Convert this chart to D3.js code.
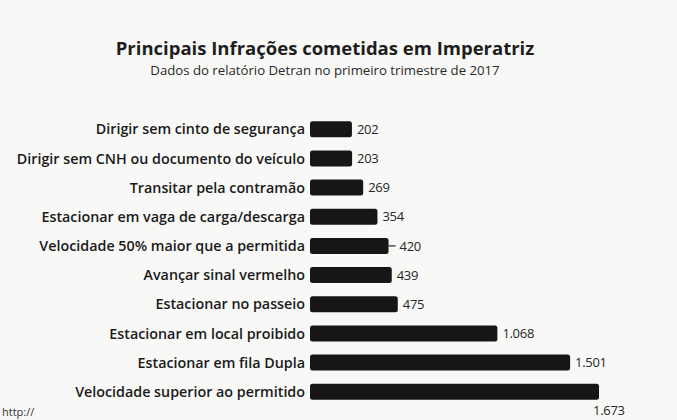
<!DOCTYPE html>
<html>
<head>
<meta charset="utf-8">
<script src="https://cdn.jsdelivr.net/npm/d3@7"></script>
<style>
  html, body { margin: 0; padding: 0; background: #f8f8f6; }
  svg { display: block; }
</style>
</head>
<body>
<div id="chart"></div>
<script>
// ---- data ----
const categories = [
  "Dirigir sem cinto de segurança",
  "Dirigir sem CNH ou documento do veículo",
  "Transitar pela contramão",
  "Estacionar em vaga de carga/descarga",
  "Velocidade 50% maior que a permitida",
  "Avançar sinal vermelho",
  "Estacionar no passeio",
  "Estacionar em local proibido",
  "Estacionar em fila Dupla",
  "Velocidade superior ao permitido"
];
const values = [202, 203, 269, 354, 420, 439, 475, 1068, 1501, 1673];
const valueLabels = ["202", "203", "269", "354", "420", "439", "475", "1.068", "1.501", "1.673"];
const title = "Principais Infrações cometidas em Imperatriz";
const subtitle = "Dados do relatório Detran no primeiro trimestre de 2017";
const sourceText = "http://";

// ---- drawing ----
const W = 677, H = 420;
const barX = 310, pad = 8;

const svg = d3.select("#chart").append("svg")
  .attr("width", W).attr("height", H);

svg.append("rect").attr("width", W).attr("height", H).attr("fill", "#f8f8f6");

const rows = d3.range(categories.length);
const y = d3.scaleBand().domain(rows).range([114.5, 406.5]).paddingInner(0.45).paddingOuter(0.23);
const x = d3.scaleLinear().domain([0, d3.max(values)]).range([0, 281]);

svg.append("text")
  .attr("x", 325).attr("y", 55)
  .attr("text-anchor", "middle")
  .attr("font-family", "Open Sans, sans-serif")
  .attr("font-weight", 700)
  .attr("font-size", 18.5)
  .attr("fill", "#1e1e1e")
  .text(title);

svg.append("text")
  .attr("x", 325).attr("y", 75)
  .attr("text-anchor", "middle")
  .attr("font-family", "Open Sans, sans-serif")
  .attr("font-size", 13.2)
  .attr("fill", "#2a2a2a")
  .text(subtitle);

const g = svg.append("g");

g.selectAll("rect.bar").data(rows).join("rect")
  .attr("class", "bar")
  .attr("x", barX)
  .attr("y", i => y(i))
  .attr("width", i => x(values[i]) + pad)
  .attr("height", y.bandwidth())
  .attr("rx", 2.5)
  .attr("fill", "#161616");

g.selectAll("text.cat").data(rows).join("text")
  .attr("class", "cat")
  .attr("x", barX - 5)
  .attr("y", i => y(i) + y.bandwidth() / 2)
  .attr("dy", "0.36em")
  .attr("text-anchor", "end")
  .attr("font-family", "Open Sans, sans-serif")
  .attr("font-weight", 600)
  .attr("font-size", 14.3)
  .attr("letter-spacing", 0)
  .attr("fill", "#1a1a1a")
  .text(i => categories[i]);

const last = values.length - 1;
const barEnd = i => barX + x(values[i]) + pad;
g.selectAll("text.val").data(rows).join("text")
  .attr("class", "val")
  .attr("x", i => i === last ? barEnd(i) - 6 : barEnd(i) + (i === 4 ? 11 : 5))
  .attr("y", i => i === last ? y(i) + y.bandwidth() + 11 : y(i) + y.bandwidth() / 2)
  .attr("dy", "0.36em")
  .attr("font-family", "Open Sans, sans-serif")
  .attr("font-size", 13)
  .attr("letter-spacing", -0.3)
  .attr("fill", "#262626")
  .text(i => valueLabels[i]);

// leader dash for the 420 label
g.append("line")
  .attr("x1", barEnd(4))
  .attr("x2", barEnd(4) + 7)
  .attr("y1", y(4) + y.bandwidth() / 2)
  .attr("y2", y(4) + y.bandwidth() / 2)
  .attr("stroke", "#262626").attr("stroke-width", 1.2);

svg.append("text")
  .attr("x", 2).attr("y", 416)
  .attr("font-family", "Open Sans, sans-serif")
  .attr("font-size", 11)
  .attr("fill", "#333")
  .text(sourceText);
</script>
</body>
</html>
